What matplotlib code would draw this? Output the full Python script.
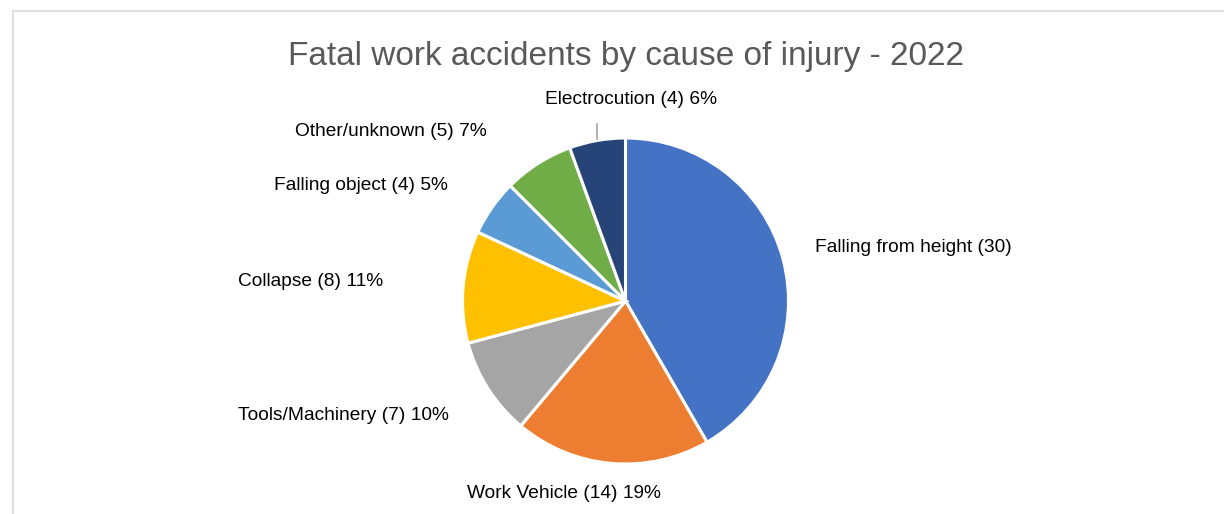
import matplotlib
matplotlib.use("Agg")
import matplotlib.pyplot as plt
from matplotlib.patches import Rectangle

plt.rcParams['font.family'] = ['Liberation Sans', 'DejaVu Sans']

# --- data (clockwise from 12 o'clock) ---
causes = ["Falling from height", "Work Vehicle", "Tools/Machinery", "Collapse",
          "Falling object", "Other/unknown", "Electrocution"]
counts = [30, 14, 7, 8, 4, 5, 4]
pct_text = ["", "19%", "10%", "11%", "5%", "7%", "6%"]
colors = ["#4472C4", "#ED7D31", "#A5A5A5", "#FFC000", "#5B9BD5", "#70AD47", "#264478"]

# label anchor points in pixels (x, y from top), Excel-style placement
label_pos = [(913, 248), (564, 493), (343, 415), (311, 282),
             (361, 186), (391, 132), (631, 99)]

W, H = 1224, 514
fig = plt.figure(figsize=(W / 100, H / 100), dpi=100)
ax = fig.add_axes([0, 0, 1, 1])

# chart area frame (only left and top edges visible in the crop)
ax.add_patch(Rectangle((12.5, -10), W + 20, H - 10.5 + 10, fill=False,
                       edgecolor="#D9D9D9", linewidth=1.2))

cx, cy, r = 625.5, H - 301, 163
ax.pie(counts, colors=colors, startangle=90, counterclock=False,
       center=(cx, cy), radius=r, frame=True,
       wedgeprops=dict(edgecolor="white", linewidth=2.2))
ax.set_xlim(0, W)
ax.set_ylim(0, H)
ax.set_aspect('equal')
ax.axis('off')

for name, n, p, (x, y) in zip(causes, counts, pct_text, label_pos):
    txt = f"{name} ({n})" + (f" {p}" if p else "")
    ax.text(x, H - y, txt, ha='center', va='center', fontsize=13.8, color="#000000")

# leader line for Electrocution
ax.plot([597, 597], [H - 124, H - 139], color="#A6A6A6", linewidth=1.2)

ax.text(626, H - 56, "Fatal work accidents by cause of injury - 2022",
        ha='center', va='center', fontsize=24, color="#595959")

fig.savefig("out.png", dpi=100)
